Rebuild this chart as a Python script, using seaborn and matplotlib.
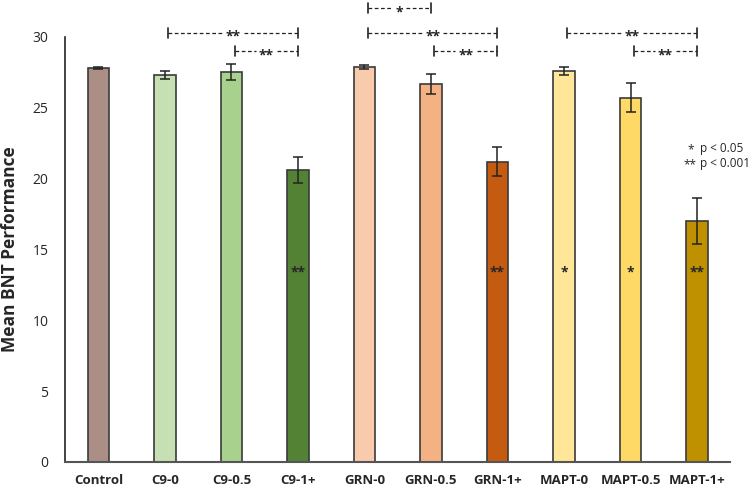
import matplotlib
matplotlib.use("Agg")
import matplotlib.pyplot as plt
import pandas as pd
import seaborn as sns

groups = ["Control", "C9-0", "C9-0.5", "C9-1+", "GRN-0", "GRN-0.5", "GRN-1+",
          "MAPT-0", "MAPT-0.5", "MAPT-1+"]
means = [27.8, 27.3, 27.5, 20.6, 27.85, 26.7, 21.2, 27.6, 25.7, 17.0]
errors = [0.1, 0.28, 0.57, 0.93, 0.15, 0.7, 1.0, 0.3, 1.03, 1.63]
colors = ["#AB8F86", "#C6E0B4", "#A9D18E", "#548235", "#F8CBAD", "#F4B183",
          "#C55A11", "#FFE699", "#FFD966", "#BF9000"]
# stars printed inside the bars (vs control)
bar_stars = ["", "", "", "**", "", "", "**", "*", "*", "**"]
# pairwise comparisons: (from, to, level, label)
brackets = [
    ("C9-0", "C9-1+", 30.3, "**"),
    ("C9-0.5", "C9-1+", 29.0, "**"),
    ("GRN-0", "GRN-0.5", 32.05, "*"),
    ("GRN-0", "GRN-1+", 30.3, "**"),
    ("GRN-0.5", "GRN-1+", 29.0, "**"),
    ("MAPT-0", "MAPT-1+", 30.3, "**"),
    ("MAPT-0.5", "MAPT-1+", 29.0, "**"),
]

df = pd.DataFrame({"group": groups, "mean": means, "err": errors})

sns.set_style("white")
plt.rcParams["font.family"] = ["Open Sans", "DejaVu Sans"]

fig = plt.figure(figsize=(7.49, 4.92), dpi=100)
ax = fig.add_axes([0.087, 0.061, 0.888, 0.864])

sns.barplot(data=df, x="group", y="mean", hue="group", palette=colors, saturation=1,
            width=0.32, edgecolor="#3a3a3a", linewidth=1.2, legend=False, ax=ax)
ax.errorbar(range(len(groups)), means, yerr=errors, fmt="none",
            ecolor="#222222", elinewidth=1.1, capsize=3.5, capthick=1.1)

ax.set_ylim(0, 30)
ax.set_xlim(-0.5, len(groups) - 0.5)
ax.set_yticks(range(0, 31, 5))
ax.tick_params(axis="both", length=0)
ax.tick_params(axis="y", labelsize=10, pad=12)
ax.tick_params(axis="x", labelsize=9.5, pad=9)
for lab in ax.get_xticklabels():
    lab.set_fontweight("bold")
ax.set_xlabel("")
ax.set_ylabel("Mean BNT Performance", fontsize=12.5, fontweight="bold", labelpad=10)
sns.despine(ax=ax)
ax.spines["left"].set_color("#222222")
ax.spines["bottom"].set_color("#555555")
ax.spines["left"].set_linewidth(1.2)
ax.spines["bottom"].set_linewidth(1.5)

for i, s in enumerate(bar_stars):
    if s:
        ax.text(i, 13.4, s, ha="center", va="center", fontsize=10, fontweight="bold")

for a, b, lvl, lab in brackets:
    x0 = groups.index(a) + 0.05
    x1 = groups.index(b)
    xm = (x0 + x1) / 2
    gap = 0.1 if lab == "*" else 0.16
    ax.plot([x0, xm - gap], [lvl, lvl], ls=(0, (3, 2)), color="#222222", lw=0.9, clip_on=False)
    ax.plot([xm + gap, x1], [lvl, lvl], ls=(0, (3, 2)), color="#222222", lw=0.9, clip_on=False)
    for xe in (x0, x1):
        ax.plot([xe, xe], [lvl - 0.35, lvl + 0.35], color="#222222", lw=1.2, clip_on=False)
    ax.text(xm, lvl - 0.3, lab, ha="center", va="center", fontsize=10, fontweight="bold", clip_on=False)

ax.text(9.05 - 0.15, 22.0, "*", ha="center", va="center", fontsize=8.5)
ax.text(9.05 - 0.15, 20.95, "**", ha="center", va="center", fontsize=8.5)
ax.text(9.05, 22.1, "p < 0.05", ha="left", va="center", fontsize=8.5)
ax.text(9.05, 21.05, "p < 0.001", ha="left", va="center", fontsize=8.5)

fig.savefig("out.png", dpi=100)
